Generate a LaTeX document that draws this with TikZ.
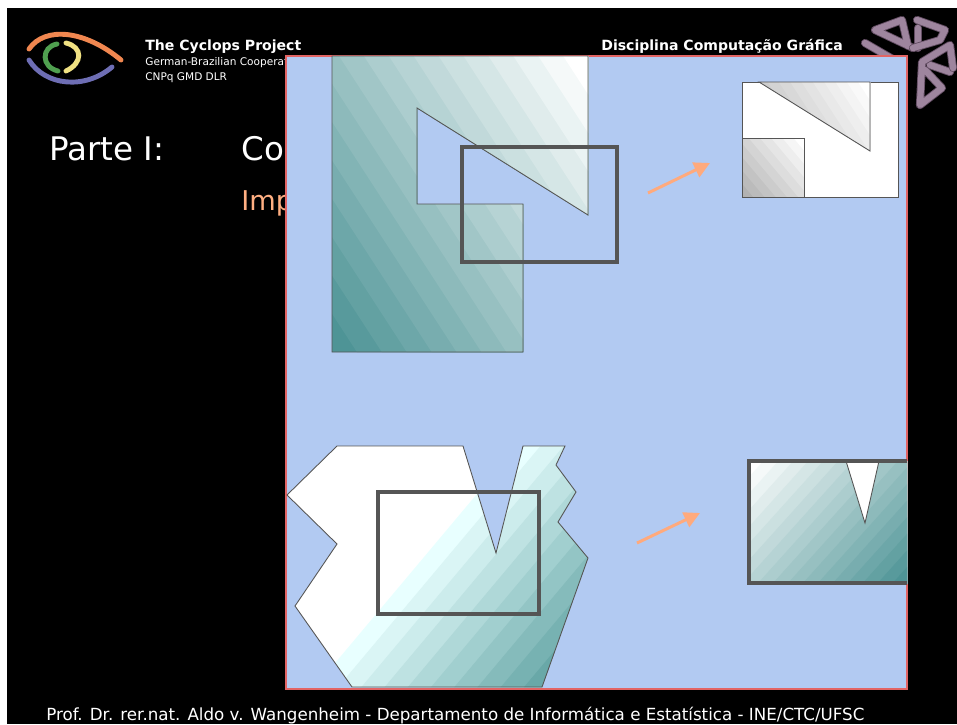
\documentclass[tikz,border=0pt]{standalone}
\usepackage{fontspec}
\setmainfont{DejaVu Sans}
\usetikzlibrary{arrows.meta}
\definecolor{panelblue}{RGB}{178,202,242}
\definecolor{panelline}{RGB}{226,100,100}
\definecolor{framegray}{RGB}{85,85,85}
\definecolor{arrowpeach}{RGB}{255,170,125}
\definecolor{tealdark}{RGB}{78,148,150}
\definecolor{tealend}{RGB}{105,168,168}
\definecolor{mintstart}{RGB}{232,255,255}
\definecolor{graydark}{RGB}{178,178,178}
\definecolor{graylight}{RGB}{205,205,205}
\definecolor{tubedark}{RGB}{100,78,100}
\definecolor{tubelight}{RGB}{158,133,158}
\definecolor{subtitlepeach}{RGB}{255,175,130}
\definecolor{eyeorange}{RGB}{240,135,80}
\definecolor{eyepurple}{RGB}{110,110,180}
\definecolor{eyegreen}{RGB}{80,160,80}
\definecolor{eyeyellow}{RGB}{240,225,130}
\tikzset{
  outline/.style = {draw = framegray, line width = 0.5pt},
  frame/.style = {draw = framegray, line width = 2pt},
  pointer/.style = {draw = arrowpeach, line width = 1.7pt, -{Triangle[length=9pt,width=9pt]}},
  tube/.style = {draw = tubedark, double = tubelight, line width = 0.5pt, double distance = 3.6pt, line cap = round, line join = round},
  eyestroke/.style = {line width = 2.8pt, line cap = round},
  headtext/.style = {anchor = base west, text = white, inner sep = 0pt}
}
% stripes painted over one another, use inside a clip
\newcommand{\bandfill}[7]{
  \begin{scope}[shift={(#1)}, rotate=#2]
    \foreach \i [evaluate=\i as \mixval using 100*\i/#5, evaluate=\i as \ustart using #3+(#4-#3)*\i/(#5+1)] in {0,...,#5}
      \fill [#7!\mixval!#6] (\ustart,-600) rectangle (600,600);
  \end{scope}
}
\def\upperpoly{(332,56) -- (588,56) -- (588,215) -- (417,108) -- (417,204) -- (523,204) -- (523,352) -- (332,352) -- cycle}
\def\lowerpoly{(337,446) -- (463,446) -- (496,553) -- (523,446) -- (565,446) -- (556,465) -- (576,492) -- (558,522) -- (588,558) -- (542,687) -- (352,687) -- (295,606) -- (337,544) -- (287,495) -- cycle}
\begin{document}
\begin{tikzpicture}[x=0.02cm, y=-0.02cm]
  \useasboundingbox (0,0) rectangle (957,724);
  \fill [white] (0,0) rectangle (957,724);
  \fill [black] (7,8) rectangle (957,724);
  % eye logo
  \draw [eyestroke, color = eyeorange] (29,49) .. controls (45,26) and (85,30) .. (121,60);
  \draw [eyestroke, color = eyepurple] (29,60) .. controls (45,86) and (85,90) .. (112,67);
  \draw [eyestroke, color = eyegreen] (57,44) .. controls (41,47) and (41,67) .. (58,71);
  \draw [eyestroke, color = eyeyellow] (66,43) .. controls (83,47) and (83,63) .. (66,71);
  % header
  \node [headtext, font = \bfseries\fontsize{8}{10}\selectfont] (project) at (145,50) {The Cyclops Project};
  \node [headtext, font = \fontsize{6}{7}\selectfont] (cooperation) at (145,65) {German-Brazilian Cooperat};
  \node [headtext, font = \fontsize{6}{7}\selectfont] (agencies) at (145,80) {CNPq GMD DLR};
  \node [headtext, font = \bfseries\fontsize{8}{10}\selectfont] (course) at (601,50) {Disciplina Computação Gráfica};
  \node [headtext, font = \fontsize{18.5}{22}\selectfont] (part) at (49,160) {Parte I:};
  \node [headtext, font = \fontsize{18.5}{22}\selectfont] (topic) at (241,160) {Con};
  \node [headtext, font = \fontsize{15.5}{18}\selectfont, text = subtitlepeach] (subtopic) at (241,210) {Imp};
  \node [headtext, font = \fontsize{9.5}{11}\selectfont] (footer) at (46,720) {Prof. Dr. rer.nat. Aldo v. Wangenheim - Departamento de Informática e Estatística - INE/CTC/UFSC};
  % cube logo
  \draw [tube] (865,43) -- (903,65);
  \draw [tube] (918,28) -- (918,48);
  \draw [tube] (930,65) -- (950,72);
  \draw [tube] (913,48) -- (875,30) -- (902,20) -- (908,46);
  \draw [tube] (917,20) -- (945,30) -- (940,40) -- (913,48);
  \draw [tube] (953,68) -- (950,45) -- (922,62) -- (920,105) -- (942,88) -- (925,70);
  % panel
  \fill [panelblue, draw = panelline, line width = 0.7pt] (286,56) rectangle (907,689);
  % upper polygon
  \begin{scope}
    \clip \upperpoly;
    \bandfill{460,204}{33}{-188}{188}{17}{tealdark}{white}
  \end{scope}
  \draw [outline] \upperpoly;
  \draw [frame] (462,147) rectangle (617,262);
  % lower polygon
  \fill [white] \lowerpoly;
  \begin{scope}
    \clip \lowerpoly;
    \bandfill{440,566}{-40}{-18}{160}{9}{mintstart}{tealend}
  \end{scope}
  \draw [outline] \lowerpoly;
  \draw [frame] (378,492) rectangle (539,614);
  % clipped views
  \fill [white, outline] (742,82) rectangle (898,197);
  \begin{scope}
    \clip (759,82) -- (870,82) -- (870,151) -- cycle;
    \bandfill{814,116}{33}{-30}{65}{9}{graylight}{white}
  \end{scope}
  \draw [outline] (759,82) -- (870,82) -- (870,151) -- cycle;
  \begin{scope}
    \clip (742,138) rectangle (804,197);
    \bandfill{773,167}{40}{-43}{43}{9}{graydark}{white}
  \end{scope}
  \draw [outline] (742,138) rectangle (804,197);
  \begin{scope}
    \clip (749,461) rectangle (907,583);
    \bandfill{828,522}{-42}{-100}{100}{17}{white}{tealdark}
  \end{scope}
  \fill [white, outline] (846,461) -- (879,461) -- (865,523) -- cycle;
  \draw [frame] (907,461) -- (749,461) -- (749,583) -- (907,583);
  % pointers
  \coordinate (upfrom) at (648,193);
  \coordinate (upto) at (710,163);
  \coordinate (lowfrom) at (637,543);
  \coordinate (lowto) at (700,513);
  \draw [pointer] (upfrom) -- (upto);
  \draw [pointer] (lowfrom) -- (lowto);
\end{tikzpicture}
\end{document}
